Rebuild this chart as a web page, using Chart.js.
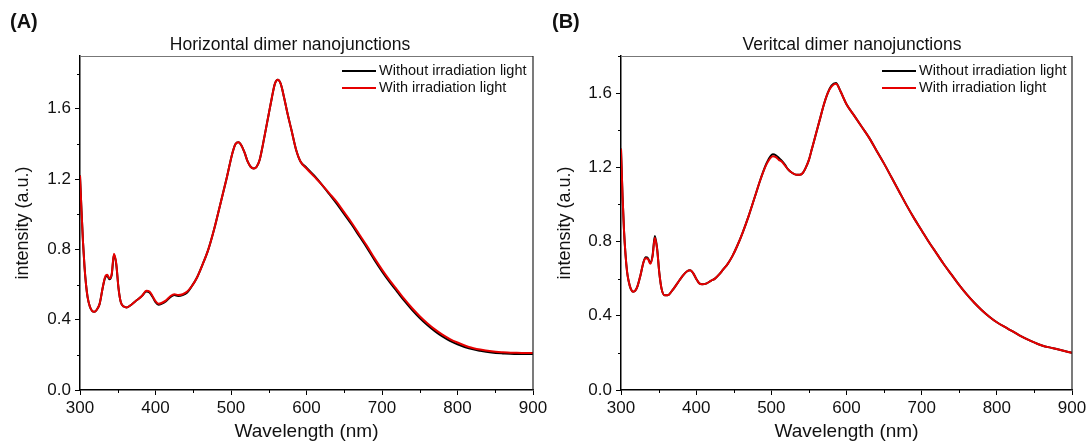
<!DOCTYPE html>
<html>
<head>
<meta charset="utf-8">
<script src="https://cdn.jsdelivr.net/npm/chart.js@4"></script>
<style>
  body { margin: 0; background: #fff; }
  #wrap { position: relative; width: 1092px; height: 445px; overflow: hidden; }
  #wrap canvas { position: absolute; top: 0; }
  #panelA { left: 0; z-index: 1; }
  #panelB { left: 546px; z-index: 2; }
</style>
</head>
<body>
<div id="wrap">
  <canvas id="panelA" width="556" height="445"></canvas>
  <canvas id="panelB" width="546" height="445"></canvas>
</div>
<script>
// длины волн (нм) — общие для обеих панелей
const wavelengths = [300,302,304,306,308,310,313,316,319,322,326,330,333,336,339,342,345,348,351,354,358,362,368,375,382,388,392,396,400,404,408,414,420,425,430,436,442,448,455,462,470,478,486,494,502,506,510,514,518,522,526,530,534,538,542,546,550,554,558,562,566,570,575,580,586,592,600,610,620,630,640,650,660,670,680,690,700,710,720,730,740,750,760,770,780,790,800,815,830,845,860,875,890,900];

// (A) горизонтальные димеры
const horizWith = [1.22,1.02,0.84,0.70,0.60,0.53,0.475,0.45,0.445,0.455,0.49,0.58,0.64,0.655,0.635,0.66,0.775,0.72,0.58,0.50,0.475,0.47,0.485,0.51,0.535,0.565,0.56,0.535,0.505,0.49,0.495,0.51,0.535,0.545,0.54,0.545,0.56,0.59,0.64,0.71,0.80,0.92,1.06,1.20,1.35,1.40,1.41,1.39,1.35,1.30,1.27,1.26,1.27,1.31,1.39,1.48,1.57,1.66,1.74,1.765,1.74,1.67,1.57,1.48,1.37,1.30,1.26,1.215,1.17,1.12,1.07,1.01,0.95,0.885,0.82,0.75,0.685,0.625,0.57,0.515,0.465,0.42,0.38,0.345,0.315,0.29,0.27,0.245,0.23,0.22,0.215,0.212,0.21,0.21];
const horizWithout = [1.22,1.02,0.84,0.70,0.60,0.53,0.475,0.45,0.445,0.455,0.49,0.58,0.635,0.65,0.63,0.655,0.77,0.715,0.58,0.50,0.475,0.47,0.485,0.51,0.535,0.56,0.555,0.53,0.5,0.485,0.49,0.505,0.53,0.54,0.535,0.54,0.555,0.59,0.64,0.71,0.80,0.92,1.06,1.20,1.35,1.40,1.41,1.39,1.35,1.30,1.27,1.26,1.27,1.31,1.39,1.48,1.57,1.66,1.74,1.765,1.74,1.67,1.57,1.48,1.37,1.30,1.265,1.22,1.17,1.115,1.06,1.0,0.94,0.875,0.81,0.74,0.675,0.615,0.56,0.505,0.455,0.41,0.37,0.335,0.305,0.28,0.26,0.237,0.223,0.213,0.208,0.205,0.205,0.205];

// (B) вертикальные димеры
const vertWith = [1.30,1.05,0.86,0.73,0.64,0.59,0.545,0.53,0.535,0.56,0.62,0.69,0.71,0.705,0.68,0.72,0.82,0.76,0.63,0.545,0.51,0.51,0.535,0.575,0.615,0.64,0.645,0.63,0.60,0.575,0.57,0.575,0.59,0.60,0.62,0.65,0.68,0.72,0.78,0.85,0.94,1.04,1.14,1.22,1.26,1.255,1.24,1.23,1.21,1.19,1.175,1.165,1.16,1.16,1.17,1.20,1.24,1.30,1.36,1.42,1.48,1.54,1.60,1.635,1.65,1.61,1.54,1.48,1.42,1.36,1.29,1.22,1.145,1.07,0.995,0.925,0.86,0.795,0.735,0.675,0.62,0.565,0.515,0.47,0.43,0.395,0.365,0.33,0.295,0.265,0.24,0.225,0.21,0.20];
const vertWithout = [1.30,1.05,0.86,0.73,0.64,0.59,0.545,0.53,0.535,0.56,0.62,0.69,0.715,0.71,0.685,0.725,0.83,0.765,0.63,0.545,0.51,0.51,0.535,0.575,0.615,0.64,0.645,0.63,0.60,0.575,0.57,0.575,0.59,0.60,0.62,0.65,0.68,0.72,0.78,0.85,0.94,1.04,1.14,1.225,1.27,1.265,1.25,1.235,1.215,1.19,1.175,1.165,1.16,1.16,1.17,1.20,1.24,1.30,1.36,1.42,1.48,1.54,1.60,1.64,1.655,1.61,1.54,1.48,1.42,1.36,1.29,1.22,1.145,1.07,0.995,0.925,0.86,0.795,0.735,0.675,0.62,0.565,0.515,0.47,0.43,0.395,0.365,0.33,0.295,0.265,0.24,0.225,0.21,0.20];

const seriesLabels = ['Without irradiation light', 'With irradiation light'];
const panelTitles = ['Horizontal dimer nanojunctions', 'Veritcal dimer nanojunctions'];
const panelLetters = ['(A)', '(B)'];

const FONT = '"Liberation Sans", Arial, Helvetica, sans-serif';
const RED = '#e60000';
const TEXT = '#111';

function toPoints(xs, ys) {
    return xs.map((x, i) => ({ x: x, y: ys[i] }));
}

// рамка, мелкие засечки, заголовок, буква панели и легенда
const panelDecor = {
    id: 'panelDecor',
    afterDraw(chart, args, opts) {
        const ctx = chart.ctx;
        const area = chart.chartArea;
        const xs = chart.scales.x;
        const ys = chart.scales.y;
        ctx.save();

        // верх и правый край рамки
        ctx.lineWidth = 1.2;
        ctx.strokeStyle = '#777';
        ctx.beginPath();
        ctx.moveTo(area.left, area.top + 0.5);
        ctx.lineTo(area.right, area.top + 0.5);
        ctx.stroke();
        ctx.strokeStyle = '#222';
        ctx.beginPath();
        ctx.moveTo(area.right, area.top);
        ctx.lineTo(area.right, area.bottom);
        ctx.stroke();

        // мелкие засечки
        ctx.strokeStyle = '#000';
        ctx.lineWidth = 1;
        for (let v = 350; v < 900; v += 100) {
            const px = Math.round(xs.getPixelForValue(v)) + 0.5;
            ctx.beginPath();
            ctx.moveTo(px, area.bottom);
            ctx.lineTo(px, area.bottom + 3);
            ctx.stroke();
        }
        for (let v = 0.2; v < ys.max; v += 0.4) {
            const py = Math.round(ys.getPixelForValue(v)) + 0.5;
            ctx.beginPath();
            ctx.moveTo(area.left, py);
            ctx.lineTo(area.left - 3, py);
            ctx.stroke();
        }

        // заголовок
        ctx.fillStyle = TEXT;
        ctx.textBaseline = 'middle';
        ctx.textAlign = 'center';
        ctx.font = '17.5px ' + FONT;
        ctx.fillText(opts.title, opts.titleX, 45);

        // буква панели
        ctx.textAlign = 'left';
        ctx.font = 'bold 20px ' + FONT;
        ctx.fillText(opts.letter, opts.letterX, 22);

        // легенда
        ctx.font = '14.5px ' + FONT;
        chart.data.datasets.forEach((ds, i) => {
            const y = 71 + i * 17;
            ctx.strokeStyle = ds.borderColor;
            ctx.lineWidth = 2;
            ctx.beginPath();
            ctx.moveTo(opts.legendX, y);
            ctx.lineTo(opts.legendX + 34, y);
            ctx.stroke();
            ctx.fillStyle = TEXT;
            ctx.fillText(ds.label, opts.legendX + 37, y);
        });
        ctx.restore();
    }
};

function makePanel(canvasId, cfg) {
    return new Chart(document.getElementById(canvasId), {
        type: 'line',
        data: {
            datasets: [
                {
                    label: seriesLabels[0],
                    data: toPoints(wavelengths, cfg.without),
                    borderColor: '#000',
                    order: 1
                },
                {
                    label: seriesLabels[1],
                    data: toPoints(wavelengths, cfg.withLight),
                    borderColor: RED,
                    order: 0
                }
            ]
        },
        options: {
            responsive: false,
            animation: false,
            layout: { padding: { top: 56, right: cfg.padRight, left: 0, bottom: 0 } },
            elements: {
                point: { radius: 0 },
                line: { borderWidth: 2, cubicInterpolationMode: 'monotone', fill: false }
            },
            plugins: {
                legend: { display: false },
                tooltip: { enabled: false },
                panelDecor: {
                    title: cfg.title,
                    titleX: cfg.titleX,
                    letter: cfg.letter,
                    letterX: cfg.letterX,
                    legendX: cfg.legendX
                }
            },
            scales: {
                x: {
                    type: 'linear',
                    min: 300,
                    max: 900,
                    ticks: {
                        stepSize: 100,
                        maxRotation: 0,
                        padding: 3,
                        color: TEXT,
                        font: { family: FONT, size: 17 }
                    },
                    grid: { drawOnChartArea: false, tickLength: 5, color: '#000', lineWidth: 1 },
                    border: { color: '#000', width: 1.5 },
                    title: {
                        display: true,
                        text: 'Wavelength (nm)',
                        color: TEXT,
                        font: { family: FONT, size: 19 },
                        padding: { top: 0, bottom: 2 }
                    },
                    afterFit(scale) { scale.height = 55; }
                },
                y: {
                    type: 'linear',
                    min: 0,
                    max: cfg.yMax,
                    ticks: {
                        stepSize: 0.4,
                        includeBounds: false,
                        padding: 4,
                        color: TEXT,
                        font: { family: FONT, size: 17 },
                        callback: v => v.toFixed(1)
                    },
                    grid: { drawOnChartArea: false, tickLength: 5, color: '#000', lineWidth: 1 },
                    border: { color: '#000', width: 1.5 },
                    title: {
                        display: true,
                        text: 'intensity (a.u.)',
                        color: TEXT,
                        font: { family: FONT, size: 18 },
                        padding: { top: cfg.yTitlePad, bottom: 0 }
                    },
                    afterFit(scale) { scale.width = cfg.yWidth; }
                }
            }
        },
        plugins: [panelDecor]
    });
}

makePanel('panelA', {
    withLight: horizWith,
    without: horizWithout,
    yMax: 1.9,
    yWidth: 80,
    padRight: 23,
    yTitlePad: 12,
    title: panelTitles[0],
    titleX: 290,
    letter: panelLetters[0],
    letterX: 10,
    legendX: 342
});

makePanel('panelB', {
    withLight: vertWith,
    without: vertWithout,
    yMax: 1.8,
    yWidth: 75,
    padRight: 20,
    yTitlePad: 8,
    title: panelTitles[1],
    titleX: 306,
    letter: panelLetters[1],
    letterX: 6,
    legendX: 336
});
</script>
</body>
</html>
